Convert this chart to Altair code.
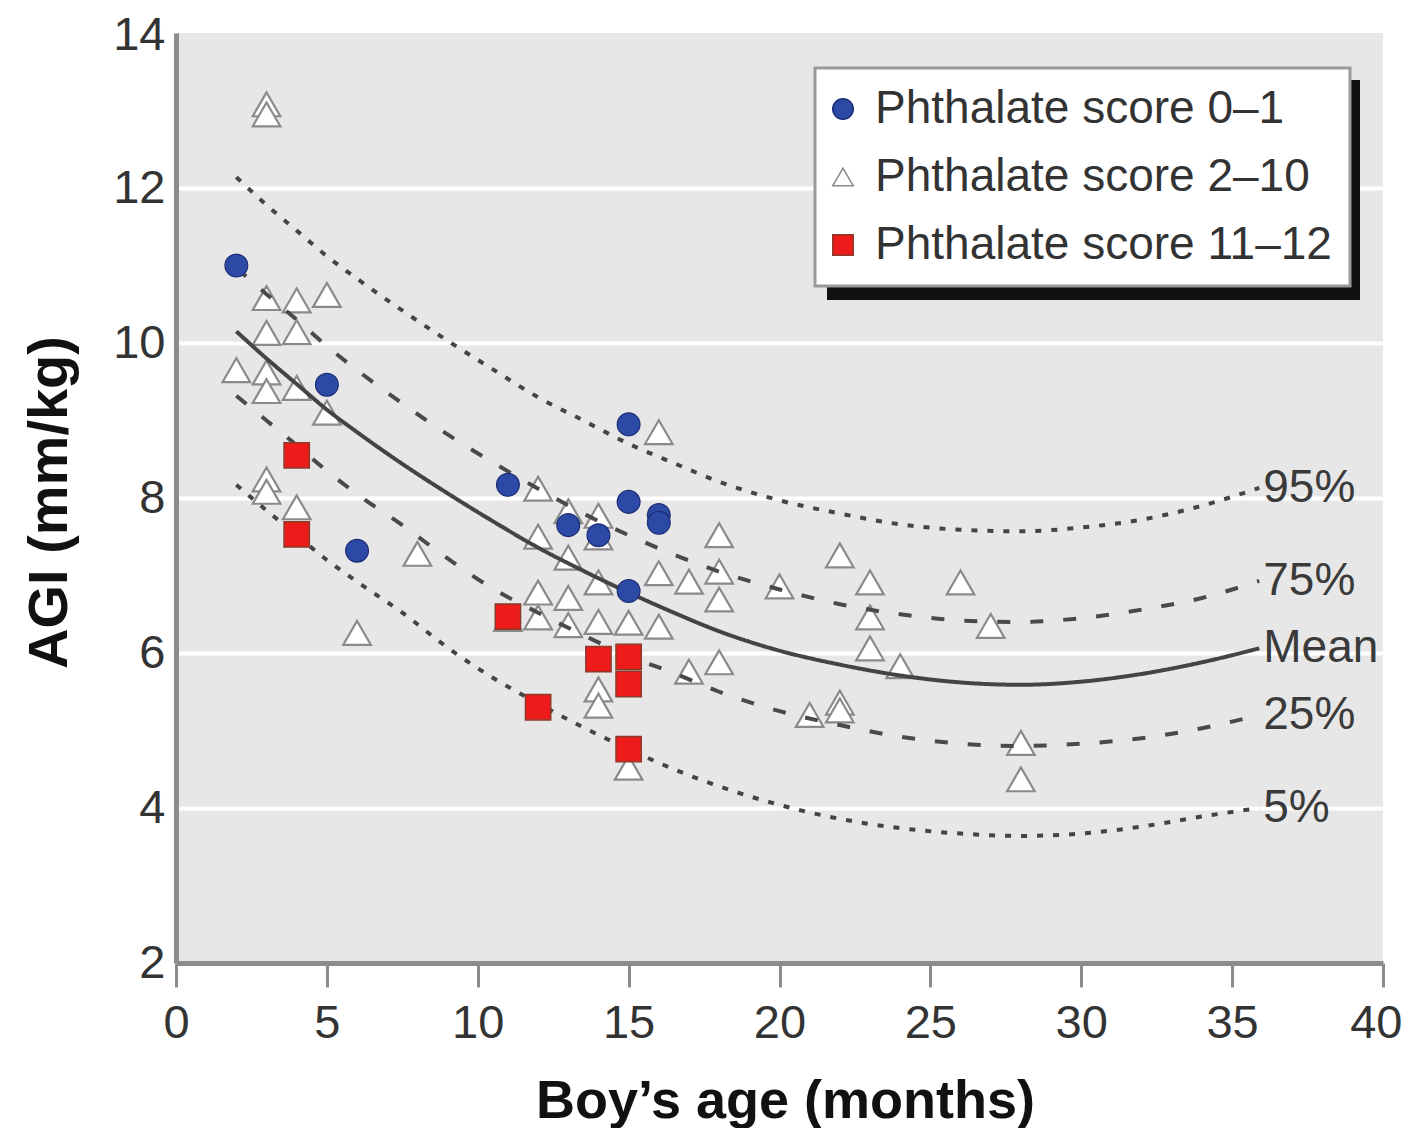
import altair as alt
import pandas as pd

# ---------------- data ----------------
groups = ["Phthalate score 0–1", "Phthalate score 2–10", "Phthalate score 11–12"]

blue_age = [2, 5, 6, 11, 13, 14, 15, 15, 15, 16, 16]
blue_agi = [11.0, 9.46, 7.32, 8.17, 7.65, 7.52, 8.95, 7.95, 6.8, 7.78, 7.68]

tri_age = [3, 3, 3, 4, 5, 3, 4, 2, 3, 3, 4, 5, 3, 3, 4, 6, 8, 11,
           12, 12, 12, 12, 13, 13, 13, 13, 14, 14, 14, 14, 14, 14, 15, 15,
           16, 16, 16, 17, 17, 18, 18, 18, 18, 20, 21, 22, 22, 22, 23, 23, 23,
           24, 26, 27, 28, 28]
tri_agi = [13.08, 12.95, 10.58, 10.55, 10.62, 10.13, 10.14, 9.65, 9.62, 9.38, 9.42, 9.1,
           8.24, 8.08, 7.88, 6.26, 7.28, 6.44,
           8.12, 7.5, 6.78, 6.46, 7.83, 7.23, 6.71, 6.36, 7.77, 7.49, 6.91, 6.4, 5.53, 5.32,
           6.39, 4.52, 8.85, 7.03, 6.34, 6.92, 5.76, 7.52, 7.05, 6.69, 5.88, 6.86, 5.2,
           7.26, 5.36, 5.26, 6.91, 6.46, 6.06, 5.83, 6.91, 6.35, 4.84, 4.37]

red_age = [4, 4, 11, 12, 14, 15, 15, 15]
red_agi = [8.55, 7.53, 6.47, 5.3, 5.92, 5.95, 5.6, 4.76]

curve_age = [2, 3, 4, 5, 6, 7.5, 9, 10.5, 12, 13.5, 15, 16.5, 18, 20, 22, 24, 26, 28, 30, 32, 34, 35.9]
p95 = [12.14, 11.78, 11.45, 11.12, 10.83, 10.42, 10.03, 9.66, 9.3, 9.0, 8.7, 8.45, 8.21,
       7.97, 7.8, 7.66, 7.59, 7.57, 7.62, 7.72, 7.9, 8.13]
p75 = [10.97, 10.63, 10.3, 9.96, 9.65, 9.22, 8.82, 8.46, 8.12, 7.8, 7.52, 7.27, 7.05,
       6.82, 6.63, 6.5, 6.42, 6.4, 6.45, 6.56, 6.71, 6.93]
mean = [10.15, 9.8, 9.47, 9.14, 8.85, 8.44, 8.06, 7.7, 7.36, 7.06, 6.78, 6.52, 6.28,
        6.03, 5.85, 5.71, 5.62, 5.59, 5.63, 5.73, 5.88, 6.06]
p25 = [9.32, 9.0, 8.68, 8.35, 8.05, 7.65, 7.22, 6.83, 6.52, 6.23, 5.96, 5.74, 5.5,
       5.25, 5.07, 4.92, 4.83, 4.8, 4.83, 4.9, 5.03, 5.2]
p5 = [8.17, 7.84, 7.52, 7.2, 6.92, 6.52, 6.07, 5.68, 5.35, 5.04, 4.76, 4.5, 4.28,
      4.04, 3.86, 3.74, 3.67, 3.64, 3.67, 3.76, 3.89, 4.0]
curve_names = ["95%", "75%", "Mean", "25%", "5%"]
curve_values = [p95, p75, mean, p25, p5]

x_ticks = [0, 5, 10, 15, 20, 25, 30, 35, 40]
y_ticks = [2, 4, 6, 8, 10, 12, 14]

# ---------------- tables ----------------
tri_df = pd.DataFrame({"age": tri_age, "agi": tri_agi, "group": groups[1]})
blue_df = pd.DataFrame({"age": blue_age, "agi": blue_agi, "group": groups[0]})
red_df = pd.DataFrame({"age": red_age, "agi": red_agi, "group": groups[2]})

curve_rows = []
for name, vals in zip(curve_names, curve_values):
    for a, v in zip(curve_age, vals):
        curve_rows.append({"age": a, "agi": v, "curve": name})
curve_df = pd.DataFrame(curve_rows)
label_df = pd.DataFrame({"age": [curve_age[-1]] * 5,
                         "agi": [v[-1] for v in curve_values],
                         "curve": curve_names})

FONT = "Liberation Sans, Arial, sans-serif"

xs = alt.Scale(domain=[0, 40], nice=False, zero=False)
ys = alt.Scale(domain=[2, 14], nice=False, zero=False)

x_enc = alt.X("age:Q", scale=xs, axis=alt.Axis(
    values=x_ticks, title="Boy’s age (months)", grid=False,
    domainColor="#8c8c8c", domainWidth=5, ticks=True, tickColor="#8c8c8c",
    tickWidth=3, tickSize=24, labelPadding=13, labelFont=FONT, labelFontSize=47,
    labelColor="#333333", labelFlush=False,
    labelAlign={"condition": {"test": "datum.value >= 40", "value": "right"}, "value": "center"},
    labelOffset={"condition": {"test": "datum.value >= 40", "value": 19}, "value": 0},
    titleFont=FONT, titleFontSize=54, titleFontWeight="bold", titleColor="#111111",
    titleX=609, titleY=154, titleBaseline="alphabetic", titleAnchor="middle"))
y_enc = alt.Y("agi:Q", scale=ys, axis=alt.Axis(
    values=y_ticks, title="AGI (mm/kg)", grid=True, gridColor="#ffffff", gridWidth=4,
    gridOpacity={"condition": {"test": "datum.value <= 2 || datum.value >= 14", "value": 0}, "value": 1},
    domainColor="#8c8c8c", domainWidth=5, ticks=False, tickSize=0, labelPadding=11,
    labelFont=FONT, labelFontSize=47, labelColor="#333333", labelFlush=False,
    labelOffset={"condition": {"test": "datum.value >= 14", "value": 2}, "value": 0},
    titleFont=FONT, titleFontSize=56, titleFontWeight="bold", titleColor="#111111",
    titleX=-110, titleY=469, titleBaseline="alphabetic", titleAngle=270, titleAlign="center"))

legend = alt.Legend(orient="none", legendX=639, legendY=35, title=None, zindex=2,
                    fillColor="#ffffff", strokeColor="#9a9a9a", padding=18, rowPadding=22,
                    labelFont=FONT, labelFontSize=46, labelColor="#333333", labelLimit=600,
                    labelOffset=9, symbolOffset=-13, symbolSize=420, symbolStrokeWidth=1.5)

shape_s = alt.Scale(domain=groups, range=["circle", "triangle-up", "square"])
fill_s = alt.Scale(domain=groups, range=["#2c49a5", "#ffffff", "#ee1b1b"])
stroke_s = alt.Scale(domain=groups, range=["#1d2d75", "#8a8a8a", "#8b3b2b"])


def points(df, size, sw):
    return alt.Chart(df).mark_point(filled=True, opacity=1, size=size, strokeWidth=sw).encode(
        x=x_enc, y=y_enc,
        shape=alt.Shape("group:N", scale=shape_s, legend=legend),
        fill=alt.Fill("group:N", scale=fill_s, legend=legend),
        stroke=alt.Stroke("group:N", scale=stroke_s, legend=legend),
    )


lines = alt.Chart(curve_df).mark_line(interpolate="monotone", strokeWidth=4).encode(
    x=x_enc, y=y_enc,
    detail="curve:N",
    color=alt.Color("curve:N", scale=alt.Scale(domain=curve_names,
                    range=["#444444", "#4a4a4a", "#444444", "#4a4a4a", "#444444"]), legend=None),
    strokeDash=alt.StrokeDash("curve:N", scale=alt.Scale(domain=curve_names,
                              range=[[6, 10], [13, 20], [1, 0], [13, 20], [6, 10]]), legend=None),
)

labels = alt.Chart(label_df).mark_text(align="left", baseline="middle", dx=4,
                                       font=FONT, fontSize=46, color="#3a3a3a").encode(
    x=x_enc, y=y_enc, text="curve:N")

shadow = alt.Chart(pd.DataFrame({"k": [0]})).mark_rect(color="#111111").encode(
    x=alt.value(651), x2=alt.value(1184), y=alt.value(47), y2=alt.value(267))

chart = alt.layer(shadow, points(tri_df, 760, 2.2), lines, points(blue_df, 520, 1.2),
                  points(red_df, 640, 1.5), labels).properties(
    width=1207, height=930,
    autosize=alt.AutoSizeParams(type="none"),
    padding={"left": 168, "top": 25, "right": 19, "bottom": 165},
    background="#ffffff",
).configure_view(fill="#e7e7e7", stroke=None).configure_legend(strokeWidth=3)

chart.save("out.html", embed_options={"renderer": "svg", "actions": False})
